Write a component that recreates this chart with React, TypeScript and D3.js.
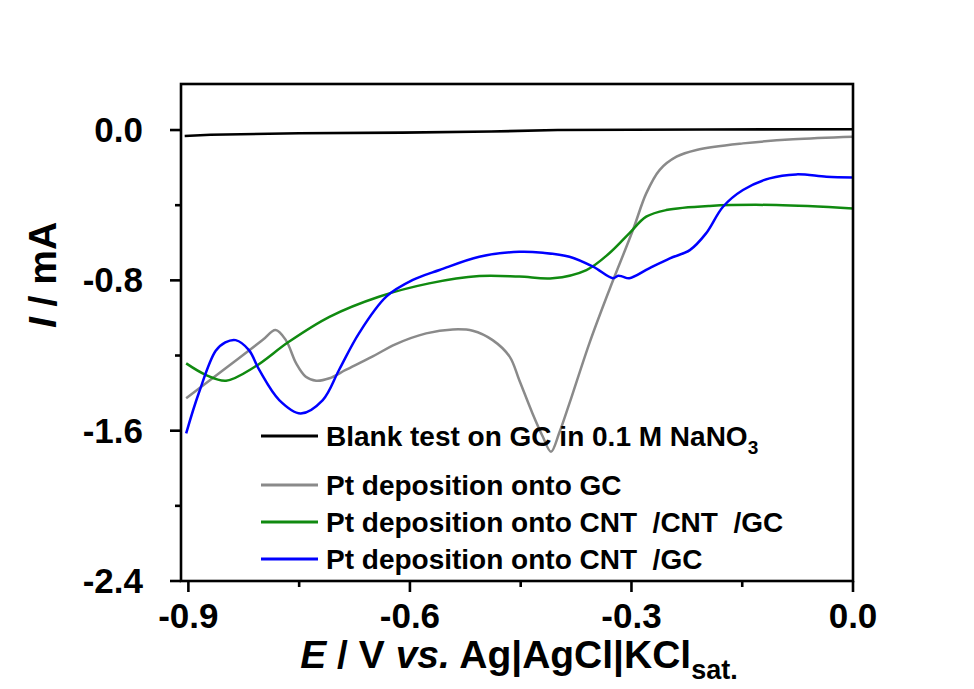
import * as d3 from 'd3'

// --- DATA ---
const blankE = [-0.905, -0.87, -0.75, -0.61, -0.49, -0.4, -0.2, 0]
const blankI = [-0.032, -0.025, -0.017, -0.014, -0.008, 0.0, 0.003, 0.004]

const gcE = [
  -0.903, -0.85, -0.8, -0.782, -0.768, -0.754, -0.741, -0.727, -0.709, -0.687,
  -0.651, -0.619, -0.578, -0.542, -0.515, -0.488, -0.465, -0.452, -0.434, -0.42,
  -0.409, -0.398, -0.384, -0.357, -0.33, -0.298, -0.28, -0.262, -0.239, -0.212,
  -0.149, -0.081, 0,
]
const gcI = [
  -1.428, -1.269, -1.119, -1.064, -1.118, -1.242, -1.313, -1.334, -1.321, -1.277,
  -1.206, -1.139, -1.082, -1.061, -1.068, -1.118, -1.206, -1.33, -1.508, -1.632,
  -1.712, -1.614, -1.455, -1.135, -0.851, -0.532, -0.337, -0.213, -0.142, -0.106,
  -0.071, -0.0495, -0.036,
]

const cntCntE = [
  -0.903, -0.876, -0.849, -0.81, -0.764, -0.709, -0.642, -0.574, -0.506, -0.452,
  -0.407, -0.361, -0.33, -0.303, -0.28, -0.253, -0.194, -0.104, 0,
]
const cntCntI = [
  -1.242, -1.304, -1.334, -1.26, -1.127, -0.994, -0.887, -0.816, -0.777, -0.78,
  -0.789, -0.745, -0.656, -0.55, -0.461, -0.426, -0.404, -0.399, -0.417,
]

const cntE = [
  -0.903, -0.886, -0.863, -0.85, -0.836, -0.818, -0.804, -0.777, -0.748, -0.718,
  -0.696, -0.669, -0.632, -0.596, -0.56, -0.506, -0.452, -0.42, -0.384, -0.352,
  -0.325, -0.318, -0.312, -0.303, -0.276, -0.248, -0.221, -0.199, -0.176, -0.149,
  -0.113, -0.077, -0.036, 0,
]
const cntI = [
  -1.614, -1.401, -1.175, -1.13, -1.118, -1.171, -1.277, -1.437, -1.508, -1.437,
  -1.277, -1.082, -0.887, -0.798, -0.745, -0.674, -0.648, -0.653, -0.674, -0.727,
  -0.789, -0.775, -0.78, -0.789, -0.736, -0.683, -0.639, -0.55, -0.408, -0.319,
  -0.257, -0.236, -0.248, -0.252,
]

const xTicks = [-0.9, -0.6, -0.3, 0.0]
const xMinorTicks = [-0.75, -0.45, -0.15]
const yTicks = [0.0, -0.8, -1.6, -2.4]
const yMinorTicks = [-0.4, -1.2, -2.0]

const legendLabels = [
  'Blank test on GC in 0.1 M NaNO',
  'Pt deposition onto GC',
  'Pt deposition onto CNT  /CNT  /GC',
  'Pt deposition onto CNT  /GC',
]

type Pt = { e: number; i: number }

const zip = (es: number[], is: number[]): Pt[] => es.map((e, k) => ({ e, i: is[k] }))

const series = [
  { pts: zip(blankE, blankI), color: '#000000', smooth: false },
  { pts: zip(gcE, gcI), color: '#8a8a8a', smooth: true },
  { pts: zip(cntCntE, cntCntI), color: '#108a10', smooth: true },
  { pts: zip(cntE, cntI), color: '#0000ff', smooth: true },
]

const W = 974
const H = 689
const left = 181
const right = 853
const top = 84
const bottom = 581

const FONT = '"Liberation Sans", Arial, sans-serif'

// plain hyphen, as in the reference
const fmt = (t: number) => (t === 0 ? '0.0' : t.toFixed(1))

export default function App() {
  const x = d3.scaleLinear().domain([-0.91, 0]).range([left, right])
  const y = d3.scaleLinear().domain([-2.4, 0.245]).range([bottom, top])

  const lineFor = (smooth: boolean) =>
    d3
      .line<Pt>()
      .x((p) => x(p.e))
      .y((p) => y(p.i))
      .curve(smooth ? d3.curveCatmullRom.alpha(0.5) : d3.curveLinear)

  const legendY = [436, 485, 522, 559]

  return (
    <div style={{ position: 'fixed', left: 0, top: 0 }}>
      <svg width={W} height={H} style={{ display: 'block', background: '#fff' }}>
        {/* curves */}
        {series.map((s, k) => (
          <path
            key={k}
            d={lineFor(s.smooth)(s.pts) ?? ''}
            fill="none"
            stroke={s.color}
            strokeWidth={k === 0 ? 2.6 : 2.5}
            strokeLinejoin="round"
          />
        ))}

        {/* frame */}
        <rect
          x={left}
          y={top}
          width={right - left}
          height={bottom - top}
          fill="none"
          stroke="#000"
          strokeWidth={2.6}
        />

        {/* x ticks */}
        {xTicks.map((t) => (
          <g key={`xt${t}`}>
            <line x1={x(t)} x2={x(t)} y1={bottom} y2={bottom + 11} stroke="#000" strokeWidth={2.6} />
            <text
              x={x(t)}
              y={628}
              textAnchor="middle"
              fontFamily={FONT}
              fontWeight="bold"
              fontSize={35}
            >
              {fmt(t)}
            </text>
          </g>
        ))}
        {xMinorTicks.map((t) => (
          <line key={`xm${t}`} x1={x(t)} x2={x(t)} y1={bottom} y2={bottom + 6} stroke="#000" strokeWidth={2.6} />
        ))}

        {/* y ticks */}
        {yTicks.map((t) => (
          <g key={`yt${t}`}>
            <line x1={left - 11} x2={left} y1={y(t)} y2={y(t)} stroke="#000" strokeWidth={2.6} />
            <text
              x={143}
              y={y(t) + 12}
              textAnchor="end"
              fontFamily={FONT}
              fontWeight="bold"
              fontSize={35}
            >
              {fmt(t)}
            </text>
          </g>
        ))}
        {yMinorTicks.map((t) => (
          <line key={`ym${t}`} x1={left - 6} x2={left} y1={y(t)} y2={y(t)} stroke="#000" strokeWidth={2.6} />
        ))}

        {/* axis titles */}
        <text
          x={519}
          y={668}
          textAnchor="middle"
          fontFamily={FONT}
          fontWeight="bold"
          fontSize={39}
        >
          <tspan fontStyle="italic">E</tspan>
          <tspan> / V </tspan>
          <tspan fontStyle="italic">vs.</tspan>
          <tspan> Ag|AgCl|KCl</tspan>
          <tspan fontSize={27} dy={11}>sat.</tspan>
        </text>
        <text
          transform={`translate(56, 275) rotate(-90)`}
          textAnchor="middle"
          fontFamily={FONT}
          fontWeight="bold"
          fontSize={39}
        >
          <tspan fontStyle="italic">I</tspan>
          <tspan> / mA</tspan>
        </text>

        {/* legend */}
        {legendLabels.map((label, k) => (
          <g key={label}>
            <line
              x1={261}
              x2={318}
              y1={legendY[k]}
              y2={legendY[k]}
              stroke={series[k].color}
              strokeWidth={3}
            />
            <text
              x={326}
              y={legendY[k] + 10}
              fontFamily={FONT}
              fontWeight="bold"
              fontSize={28}
              style={{ whiteSpace: 'pre' }}
            >
              {label}
              {k === 0 && (
                <tspan fontSize={19} dy={8}>
                  3
                </tspan>
              )}
            </text>
          </g>
        ))}
      </svg>
    </div>
  )
}
